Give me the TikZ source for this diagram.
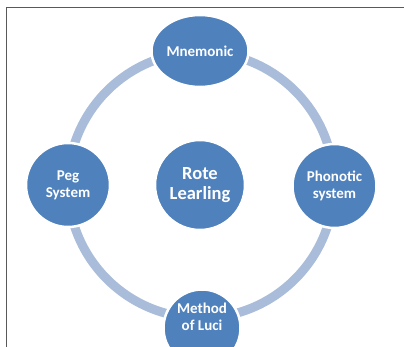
\documentclass[tikz,border=0pt]{standalone}
\usepackage{fontspec}
\setmainfont{Carlito}
\usetikzlibrary{shapes.geometric}
\definecolor{nodeblue}{HTML}{4F81BD}
\definecolor{ringblue}{HTML}{A9BCDA}
\definecolor{framegray}{HTML}{595959}
\begin{document}
\begin{tikzpicture}[x=1pt,y=-1pt,
  ring/.style={draw=ringblue, line width=9pt},
  bub/.style={circle, fill=nodeblue, draw=white, line width=2.5pt, inner sep=0pt,
     text=white, align=center, font=\fontsize{15}{17}\selectfont\bfseries},
  bigtxt/.style={font=\fontsize{18.5}{20}\selectfont\bfseries},
  framel/.style={draw=framegray, line width=1.6pt}]
\useasboundingbox (0,0) rectangle (404,347);
\fill[white] (0,0) rectangle (404,347);
% frame
\coordinate (f1) at (404,7.5);
\coordinate (f2) at (6.5,7.5);
\coordinate (f3) at (6.5,347);
\draw[framel] (f1) -- (f2) -- (f3);
% ring
\coordinate (rc) at (201,185);
\draw[ring] (rc) circle (133);
% nodes
\node[bub, ellipse, minimum width=97pt, minimum height=72pt] (mnem) at (200,51) {Mnemonic};
\node[bub, minimum size=84pt] (peg) at (68,185) {Peg\\System};
\node[bub, bigtxt, minimum size=90pt] (rote) at (200,185) {Rote\\Learling};
\node[bub, minimum size=84pt] (phon) at (334.5,186) {Phonotic\\system};
\node[bub, minimum size=77pt] (method) at (202,328) {};
\node[bub, draw=none, fill=none] (methodt) at (202,317) {Method\\of Luci};
\end{tikzpicture}
\end{document}
